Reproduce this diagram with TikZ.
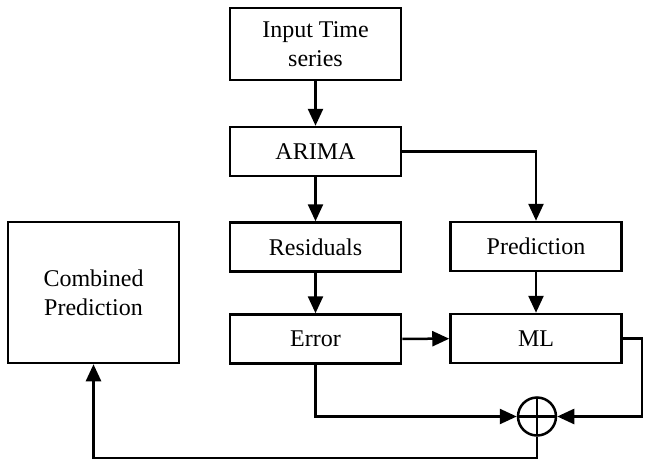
\documentclass[tikz,border=0pt]{standalone}
\usepackage{fontspec}
\setmainfont{Liberation Serif}
\usetikzlibrary{arrows.meta}
\begin{document}
\begin{tikzpicture}[x=1pt,y=1pt,
  line width=2.5pt,
  blk/.style={draw, rectangle, minimum width=171pt, minimum height=49pt,
    align=center, inner sep=2pt, font=\fontsize{24}{29}\selectfont},
  arr/.style={-{Triangle[length=17pt,width=15pt]}},
  sumnode/.style={draw, circle, minimum size=38pt, inner sep=0pt,
    path picture={
      \draw (path picture bounding box.north) -- (path picture bounding box.south);
      \draw (path picture bounding box.west) -- (path picture bounding box.east);
    }}]
  \useasboundingbox (0,0) rectangle (646,-461);

  % processing blocks
  \node[blk, minimum height=72pt] (input) at (315.5,-44) {Input Time\\series};
  \node[blk] (arima) at (315.5,-151.5) {ARIMA};
  \node[blk] (resid) at (315.5,-247) {Residuals};
  \node[blk] (error) at (315.5,-339) {Error};
  \node[blk] (pred) at (536,-246.5) {Prediction};
  \node[blk] (ml) at (536,-338.5) {ML};
  \node[blk, minimum height=141pt] (comb) at (93.5,-292.5) {Combined\\Prediction};

  % summing junction
  \node[sumnode] (plus) at (537,-416.5) {};

  % routing points
  \coordinate (mlturn) at (642,-338.5);
  \coordinate (floor) at (93.5,-458);

  % connectors
  \draw[arr] (input) -- (arima);
  \draw[arr] (arima) -- (resid);
  \draw[arr] (resid) -- (error);
  \draw[arr] (arima.east) -| (pred.north);
  \draw[arr] (pred) -- (ml);
  \draw[arr] (error) -- (ml);
  \draw[arr] (error.south) |- (plus.west);
  \draw[arr] (ml.east) -- (mlturn) |- (plus.east);
  \draw[arr] (plus.south) |- (floor) -- (comb.south);
\end{tikzpicture}
\end{document}
